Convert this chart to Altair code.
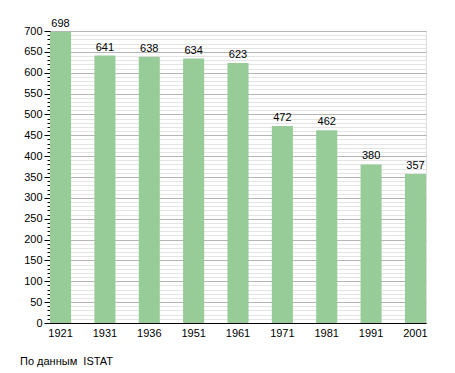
import altair as alt
import pandas as pd

years = ["1921", "1931", "1936", "1951", "1961", "1971", "1981", "1991", "2001"]
population = [698, 641, 638, 634, 623, 472, 462, 380, 357]
major_ticks = list(range(0, 701, 50))
minor_ticks = list(range(0, 701, 10))
source_note = "По данным\u00a0 ISTAT"

df = pd.DataFrame({"year": years, "pop": population})
FONT = "Liberation Sans"

x_enc = alt.X("year:N", sort=years, title=None,
              scale=alt.Scale(paddingInner=0.525, paddingOuter=0),
              axis=alt.Axis(labelAngle=0, ticks=False, domainColor="#000",
                            labelFont=FONT, labelFontSize=11, labelColor="#000",
                            labelPadding=4))
y_scale = alt.Scale(domain=[0, 700], nice=False)

minor = alt.Chart(pd.DataFrame({"v": minor_ticks})).mark_rule(opacity=0).encode(
    y=alt.Y("v:Q", scale=y_scale, title=None,
            axis=alt.Axis(values=minor_ticks, labels=False, orient="left",
                          tickSize=3, tickColor="#000", domain=False,
                          grid=True, gridColor="#e4e4e4", gridWidth=1))
)

bars = alt.Chart(df).mark_bar(color="#97CB97").encode(
    x=x_enc,
    y=alt.Y("pop:Q", scale=y_scale, title=None,
            axis=alt.Axis(values=major_ticks, orient="left", tickSize=6,
                          tickColor="#000", domainColor="#000",
                          grid=True, gridColor="#b5b5b5", gridWidth=1,
                          labelFont=FONT, labelFontSize=11, labelColor="#000",
                          labelPadding=2))
)

labels = alt.Chart(df).mark_text(dy=-3, baseline="bottom", font=FONT,
                                 fontSize=11, color="#000").encode(
    x=alt.X("year:N", sort=years),
    y=alt.Y("pop:Q", scale=y_scale, axis=None),
    text="pop:Q",
)

note = alt.Chart(pd.DataFrame({"t": [source_note]})).mark_text(
    align="left", baseline="middle", font=FONT, fontSize=11, color="#000"
).encode(x=alt.value(-30), y=alt.value(331), text="t:N")

chart = alt.layer(minor, bars, labels, note).resolve_axis(y="independent").properties(
    width=376, height=292,
    autosize=alt.AutoSizeParams(type="none"),
    padding={"left": 42, "top": 23, "right": 21, "bottom": 50},
).configure_view(stroke=None).configure(background="white")

chart.save("out.html", embed_options={"renderer": "svg", "actions": False})
